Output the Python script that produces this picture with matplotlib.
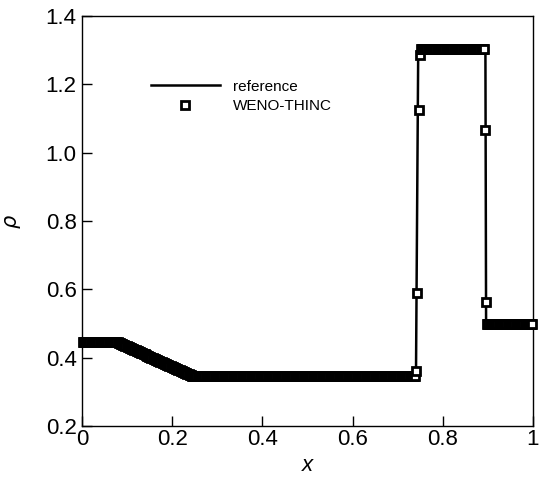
import matplotlib
matplotlib.use("Agg")
import matplotlib.pyplot as plt
import numpy as np

plt.rcParams['font.family'] = ['Liberation Sans', 'DejaVu Sans']

# reference solution (breakpoints)
ref_x = [0.0, 0.080, 0.163, 0.246, 0.7405, 0.7455, 0.8945, 0.8960, 1.0]
ref_rho = [0.445, 0.445, 0.392, 0.346, 0.346, 1.304, 1.304, 0.500, 0.500]

# WENO-THINC cell values on a 400-cell mesh
n_cells = 400
weno_left = [0.445] * 32
weno_fan = [0.444, 0.4425, 0.441, 0.4395, 0.438, 0.4365, 0.435, 0.4335, 0.432, 0.4305,
            0.429, 0.4275, 0.426, 0.4245, 0.423, 0.4215, 0.420, 0.4185, 0.417, 0.4155,
            0.414, 0.4125, 0.411, 0.4095, 0.408, 0.4065, 0.405, 0.4035, 0.402, 0.4005,
            0.399, 0.3975, 0.396, 0.3945, 0.393, 0.3915, 0.390, 0.3885, 0.387, 0.3855,
            0.384, 0.3825, 0.381, 0.3795, 0.378, 0.3765, 0.375, 0.3735, 0.372, 0.3705,
            0.369, 0.3675, 0.366, 0.3645, 0.363, 0.3615, 0.360, 0.3585, 0.357, 0.3555,
            0.354, 0.3525, 0.351, 0.3495, 0.348, 0.3465]
weno_star_l = [0.346] * 198
weno_contact = [0.361, 0.589, 1.125, 1.286]
weno_star_r = [1.304] * 57
weno_shock = [1.066, 0.563]
weno_right = [0.500] * 41

weno_rho = weno_left + weno_fan + weno_star_l + weno_contact + weno_star_r + weno_shock + weno_right
weno_x = (np.arange(n_cells) + 0.5) / n_cells

fig = plt.figure(figsize=(5.4, 4.82), dpi=100)
ax = fig.add_axes([0.152, 0.116, 0.835, 0.851])

ax.plot(ref_x, ref_rho, color='black', lw=1.8, label='reference', zorder=2)
ax.plot(weno_x, weno_rho, ls='none', marker='s', ms=6.3, mfc='white', mec='black',
        mew=2.0, label='WENO-THINC', clip_on=False, zorder=3)

ax.set_xlim(0, 1)
ax.set_ylim(0.2, 1.4)
ax.set_xticks([0, 0.2, 0.4, 0.6, 0.8, 1.0])
ax.set_xticklabels(['0', '0.2', '0.4', '0.6', '0.8', '1'])
ax.set_yticks([0.2, 0.4, 0.6, 0.8, 1.0, 1.2, 1.4])
ax.set_yticklabels(['0.2', '0.4', '0.6', '0.8', '1.0', '1.2', '1.4'])
ax.tick_params(direction='in', length=7, width=1, labelsize=16, top=False, right=False)
ax.tick_params(axis='x', pad=2)
ax.tick_params(axis='y', pad=4)
for s in ax.spines.values():
    s.set_linewidth(1.0)

ax.set_xlabel('x', fontsize=16, style='italic', labelpad=4)
ax.set_ylabel(r'$\rho$', fontsize=15, labelpad=16)

ax.legend(loc='upper left', bbox_to_anchor=(0.122, 0.878), frameon=False, fontsize=11,
          handlelength=4.5, handletextpad=0.9, labelspacing=0.35)

fig.savefig('out.png', dpi=100)
